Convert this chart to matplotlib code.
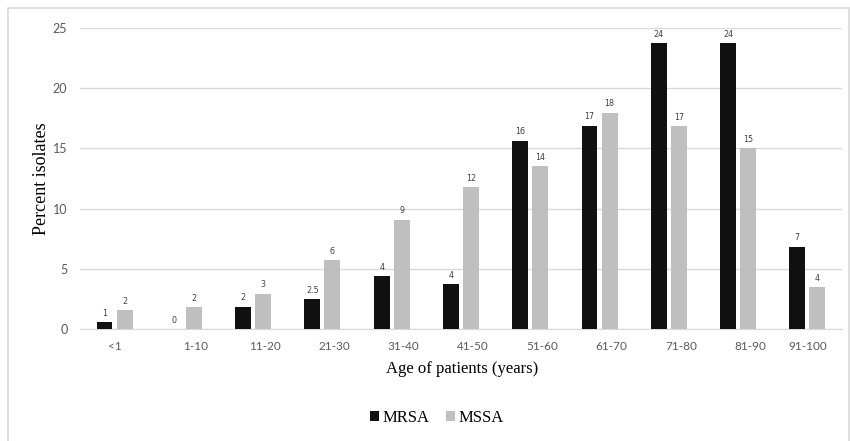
import matplotlib
matplotlib.use('Agg')
import matplotlib.pyplot as plt
import matplotlib.transforms as mtransforms
from matplotlib.patches import Rectangle
import numpy as np

# data
ages = ['<1', '1-10', '11-20', '21-30', '31-40', '41-50', '51-60', '61-70', '71-80', '81-90', '91-100']
mrsa = [0.58, 0, 1.85, 2.5, 4.36, 3.73, 15.64, 16.9, 23.77, 23.77, 6.85]
mssa = [1.6, 1.8, 2.93, 5.7, 9.08, 11.8, 13.5, 17.97, 16.83, 15.0, 3.5]
mrsa_labels = ['1', '0', '2', '2.5', '4', '4', '16', '17', '24', '24', '7']
mssa_labels = ['2', '2', '3', '6', '9', '12', '14', '18', '17', '15', '4']

fig = plt.figure(figsize=(8.5, 4.41), dpi=100)
# light frame like the pasted Excel chart
fig.patches.append(Rectangle((8 / 850, -0.01), 841 / 850, 1 - 8 / 441 + 0.01,
                             transform=fig.transFigure, fill=False,
                             edgecolor='#d9d9d9', lw=1.2))
ax = fig.add_axes([0.094, 0.254, 0.8966, 0.6825])

x = np.arange(len(ages))
w = 0.23
off = 0.145
b1 = ax.bar(x - off, mrsa, w, color='#111111', label='MRSA', zorder=3)
b2 = ax.bar(x + off, mssa, w, color='#bfbfbf', label='MSSA', zorder=3)

for rect, lab in zip(b1, mrsa_labels):
    ax.text(rect.get_x() + rect.get_width() / 2, rect.get_height() + 0.35, lab,
            ha='center', va='bottom', fontsize=5.8, color='#404040')
for rect, lab in zip(b2, mssa_labels):
    ax.text(rect.get_x() + rect.get_width() / 2, rect.get_height() + 0.35, lab,
            ha='center', va='bottom', fontsize=5.8, color='#404040')

ax.set_xlim(-0.5, 10.5)
ax.set_ylim(0, 25)
ax.set_yticks([0, 5, 10, 15, 20, 25])
ax.yaxis.grid(True, color='#d9d9d9', lw=1, zorder=0)
for s in ['top', 'right', 'left']:
    ax.spines[s].set_visible(False)
ax.spines['bottom'].set_color('#d9d9d9')
ax.tick_params(axis='both', length=0)
ax.tick_params(axis='y', labelsize=9, labelcolor='#595959', pad=9)
for t in ax.get_yticklabels():
    t.set_family('Lato')
ax.set_xticks(x)
ax.set_xticklabels(ages, family='Lato', fontsize=8.5, color='#595959')
ax.tick_params(axis='x', pad=9)
# Excel places the middle category labels a little to the right
for i, t in enumerate(ax.get_xticklabels()):
    dx = 0 if i in (0, len(ages) - 1) else 12 / 100
    t.set_transform(t.get_transform() + mtransforms.ScaledTranslation(dx, 0, fig.dpi_scale_trans))

ax.set_ylabel('Percent isolates', family='Liberation Serif', fontsize=13)
ax.yaxis.set_label_coords(-0.039, 0.5)
ax.set_xlabel('Age of patients (years)', family='Liberation Serif', fontsize=12)
ax.xaxis.set_label_coords(0.502, -0.105)

fig.legend(loc='center', bbox_to_anchor=(0.514, 0.052), ncol=2, frameon=False,
           prop={'family': 'Liberation Serif', 'size': 12},
           handlelength=0.55, handleheight=0.55, handletextpad=0.2, columnspacing=1.0)

fig.savefig('out.png', dpi=100)
